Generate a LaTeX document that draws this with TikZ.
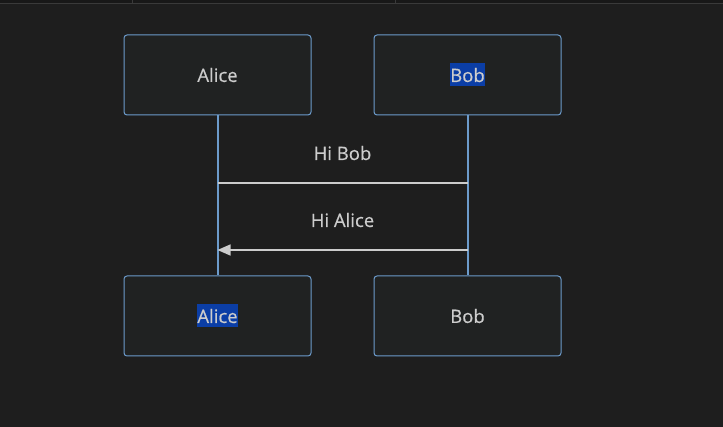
\documentclass[tikz,border=0pt]{standalone}
\usepackage{fontspec}
\setmainfont{Open Sans}[BoldFont={Open Sans}, BoldFeatures={FakeBold=0.5}]
\usetikzlibrary{arrows.meta}
\definecolor{bgdark}{HTML}{1E1E1E}
\definecolor{barDark}{HTML}{181818}
\definecolor{barLine}{HTML}{3A3A3A}
\definecolor{boxFill}{HTML}{202222}
\definecolor{boxLine}{HTML}{6C9BCB}
\definecolor{txtGrey}{HTML}{CCCCCC}
\definecolor{selBlue}{HTML}{0B3EA6}
\newcommand{\hilite}[1]{{\setlength{\fboxsep}{0pt}\colorbox{selBlue}{\hspace{0.7pt}\rule[-4.5pt]{0pt}{23pt}#1\hspace{0.7pt}}}}
\tikzset{
  actor/.style={draw=boxLine, fill=boxFill, rounded corners=3pt, line width=1pt,
    minimum width=187pt, minimum height=80pt, text=txtGrey, font=\fontsize{18.5}{21}\selectfont\bfseries},
  lifeline/.style={draw=boxLine, line width=2pt},
  msg/.style={draw=txtGrey, line width=1.5pt},
  msglabel/.style={text=txtGrey, font=\fontsize{18.5}{21}\selectfont\bfseries, anchor=base}
}
\begin{document}
\begin{tikzpicture}[x=1pt,y=-1pt]
        % Background and window strip
        \fill[bgdark] (0,0) rectangle (723,427);
        \useasboundingbox (0,0) rectangle (723,427);
        \fill[barDark] (0,0) rectangle (723,3);
        \draw[barLine, line width=1pt] (0,3.5) -- (723,3.5);
        \draw[barLine, line width=1pt] (132.7,0) -- (132.7,3);
        \draw[barLine, line width=1pt] (395,0) -- (395,3);
        % Actors
        \node[actor] (aliceTop) at (217.5,75) {Alice};
        \node[actor] (bobTop) at (467.5,75) {\hilite{Bob}};
        \node[actor] (aliceBot) at (217.5,316) {\hilite{Alice}};
        \node[actor] (bobBot) at (467.5,316) {Bob};
        % Lifelines
        \draw[lifeline] (aliceTop.south) -- (aliceBot.north);
        \draw[lifeline] (bobTop.south) -- (bobBot.north);
        % Messages
        \coordinate (hiBobA) at (aliceTop.south |- 0,183);
        \coordinate (hiBobB) at (bobTop.south |- 0,183);
        \coordinate (hiAliceA) at (aliceTop.south |- 0,250);
        \coordinate (hiAliceB) at (bobTop.south |- 0,250);
        \draw[msg] (hiBobA) -- (hiBobB) node[msglabel, midway, yshift=23pt] (hiBobTxt) {Hi Bob};
        \draw[msg, -{Triangle[length=13pt,width=11pt]}] (hiAliceB) -- (hiAliceA) node[msglabel, midway, yshift=23pt] (hiAliceTxt) {Hi Alice};
\end{tikzpicture}
\end{document}
